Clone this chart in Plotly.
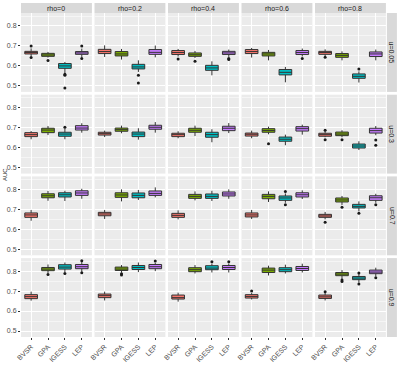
import plotly.graph_objects as go

W, H = 399, 366

METHODS = ["BVSR", "GPA", "IGESS", "LEP"]
RHO_LABELS = ["rho=0", "rho=0.2", "rho=0.4", "rho=0.6", "rho=0.8"]
U_LABELS = ["u=0.05", "u=0.3", "u=0.7", "u=0.9"]
Y_TICKS = [0.5, 0.6, 0.7, 0.8]

# box stats per panel (row-major: u then rho): (lower whisker, q1, median, q3, upper whisker)
BVSR = [
    (0.648, 0.660, 0.667, 0.673, 0.688), (0.645, 0.662, 0.672, 0.683, 0.703),
    (0.647, 0.657, 0.667, 0.677, 0.685), (0.642, 0.662, 0.672, 0.682, 0.690),
    (0.648, 0.658, 0.667, 0.673, 0.683),
    (0.642, 0.655, 0.665, 0.675, 0.683), (0.653, 0.663, 0.670, 0.677, 0.685),
    (0.647, 0.655, 0.665, 0.672, 0.682), (0.647, 0.658, 0.667, 0.673, 0.685),
    (0.652, 0.657, 0.665, 0.672, 0.682),
    (0.643, 0.660, 0.672, 0.682, 0.697), (0.652, 0.668, 0.677, 0.685, 0.697),
    (0.650, 0.660, 0.670, 0.680, 0.695), (0.652, 0.662, 0.672, 0.682, 0.697),
    (0.650, 0.660, 0.667, 0.675, 0.687),
    (0.652, 0.662, 0.672, 0.682, 0.697), (0.653, 0.667, 0.677, 0.685, 0.697),
    (0.647, 0.660, 0.667, 0.680, 0.692), (0.658, 0.665, 0.673, 0.682, 0.690),
    (0.653, 0.663, 0.671, 0.680, 0.692),
]
BVSR_OUT = [
    [0.700, 0.642], [], [0.635], [], [0.643],
    [], [], [], [], [0.687, 0.640],
    [], [], [], [], [0.635],
    [], [], [], [0.700], [0.697],
]

GPA = [
    (0.642, 0.648, 0.655, 0.663, 0.670), (0.632, 0.650, 0.660, 0.672, 0.685),
    (0.640, 0.648, 0.656, 0.665, 0.675), (0.628, 0.650, 0.660, 0.668, 0.680),
    (0.628, 0.643, 0.653, 0.662, 0.673),
    (0.663, 0.675, 0.688, 0.697, 0.708), (0.672, 0.682, 0.690, 0.698, 0.710),
    (0.658, 0.677, 0.687, 0.697, 0.710), (0.667, 0.677, 0.686, 0.695, 0.705),
    (0.652, 0.660, 0.668, 0.678, 0.687),
    (0.743, 0.758, 0.768, 0.778, 0.792), (0.740, 0.760, 0.772, 0.783, 0.800),
    (0.745, 0.755, 0.765, 0.775, 0.790), (0.737, 0.753, 0.765, 0.775, 0.790),
    (0.722, 0.737, 0.747, 0.757, 0.767),
    (0.788, 0.802, 0.810, 0.818, 0.833), (0.792, 0.803, 0.810, 0.820, 0.830),
    (0.788, 0.797, 0.807, 0.817, 0.830), (0.778, 0.793, 0.805, 0.815, 0.827),
    (0.760, 0.777, 0.785, 0.793, 0.805),
]
GPA_OUT = [
    [0.627], [], [0.623], [], [],
    [], [], [], [0.620], [0.640],
    [], [], [], [], [0.710],
    [0.783], [0.787, 0.780], [], [], [0.755, 0.748],
]

IGESS = [
    (0.562, 0.588, 0.600, 0.612, 0.620), (0.570, 0.585, 0.595, 0.608, 0.628),
    (0.553, 0.578, 0.590, 0.603, 0.623), (0.518, 0.555, 0.568, 0.582, 0.595),
    (0.517, 0.538, 0.548, 0.560, 0.573),
    (0.642, 0.657, 0.668, 0.677, 0.695), (0.640, 0.655, 0.668, 0.678, 0.697),
    (0.627, 0.652, 0.665, 0.677, 0.692), (0.612, 0.632, 0.642, 0.653, 0.665),
    (0.588, 0.598, 0.608, 0.618, 0.632),
    (0.742, 0.762, 0.773, 0.783, 0.793), (0.747, 0.758, 0.770, 0.782, 0.797),
    (0.742, 0.755, 0.765, 0.777, 0.793), (0.733, 0.745, 0.757, 0.767, 0.780),
    (0.690, 0.707, 0.715, 0.725, 0.740),
    (0.795, 0.810, 0.820, 0.832, 0.843), (0.795, 0.808, 0.818, 0.828, 0.843),
    (0.793, 0.807, 0.815, 0.827, 0.838), (0.788, 0.797, 0.807, 0.817, 0.832),
    (0.742, 0.757, 0.765, 0.773, 0.785),
]
IGESS_OUT = [
    [0.558, 0.553, 0.490], [0.553, 0.515], [], [], [0.585],
    [0.702], [], [], [], [],
    [], [], [], [0.790, 0.723], [0.680],
    [0.788], [], [0.847], [], [0.790, 0.735],
]

LEP = [
    (0.643, 0.658, 0.665, 0.672, 0.687), (0.643, 0.658, 0.668, 0.682, 0.702),
    (0.645, 0.657, 0.665, 0.673, 0.682), (0.647, 0.657, 0.667, 0.677, 0.687),
    (0.628, 0.647, 0.660, 0.670, 0.682),
    (0.675, 0.688, 0.698, 0.710, 0.722), (0.675, 0.692, 0.702, 0.712, 0.728),
    (0.673, 0.685, 0.697, 0.707, 0.723), (0.665, 0.683, 0.695, 0.705, 0.715),
    (0.662, 0.673, 0.685, 0.697, 0.708),
    (0.753, 0.770, 0.782, 0.793, 0.803), (0.760, 0.770, 0.780, 0.792, 0.810),
    (0.753, 0.767, 0.777, 0.787, 0.800), (0.752, 0.762, 0.773, 0.783, 0.795),
    (0.733, 0.745, 0.758, 0.768, 0.778),
    (0.797, 0.812, 0.822, 0.833, 0.845), (0.800, 0.812, 0.822, 0.833, 0.842),
    (0.793, 0.808, 0.818, 0.828, 0.838), (0.793, 0.803, 0.813, 0.823, 0.837),
    (0.773, 0.787, 0.795, 0.805, 0.817),
]
LEP_OUT = [
    [0.700, 0.637], [], [0.637, 0.632], [0.637], [],
    [], [], [], [], [0.638, 0.612],
    [], [], [], [], [0.723],
    [0.852, 0.792], [0.850], [0.847], [], [0.767],
]

STATS = {"BVSR": BVSR, "GPA": GPA, "IGESS": IGESS, "LEP": LEP}
OUTS = {"BVSR": BVSR_OUT, "GPA": GPA_OUT, "IGESS": IGESS_OUT, "LEP": LEP_OUT}
COLORS = {"BVSR": "#F8766D", "GPA": "#7CAE00", "IGESS": "#00BFC4", "LEP": "#C77CFF"}

# panel geometry in pixels
X0, PW, XGAP = 21, 70.9, 2.6
Y0, PH, YGAP = 13, 78.9, 2.8
STRIP = 10
FONT = "Liberation Sans, Arial, sans-serif"


def px_x(x):
    return x / W


def px_y(y):
    return 1 - y / H


fig = go.Figure()
layout = {}
shapes = []
annotations = []

for r in range(4):
    for c in range(5):
        idx = r * 5 + c + 1
        p = r * 5 + c
        xs = "" if idx == 1 else str(idx)
        left = X0 + c * (PW + XGAP)
        top = Y0 + r * (PH + YGAP)

        for m in METHODS:
            lo, q1, med, q3, hi = STATS[m][p]
            fig.add_trace(go.Box(
                x=[m], q1=[q1], median=[med], q3=[q3],
                lowerfence=[lo], upperfence=[hi],
                width=0.75, whiskerwidth=0,
                fillcolor=COLORS[m], line=dict(color="#333333", width=1),
                boxpoints=False, showlegend=False, hoverinfo="skip",
                xaxis="x" + xs, yaxis="y" + xs,
            ))
            outs = OUTS[m][p]
            if outs:
                fig.add_trace(go.Scatter(
                    x=[m] * len(outs), y=outs, mode="markers",
                    marker=dict(color="#1A1A1A", size=3),
                    showlegend=False, hoverinfo="skip",
                    xaxis="x" + xs, yaxis="y" + xs,
                ))

        layout["xaxis" + xs] = dict(
            domain=[px_x(left), px_x(left + PW)], anchor="y" + xs,
            type="category", categoryorder="array", categoryarray=METHODS,
            range=[-0.6, 3.6], showgrid=True, gridcolor="white", gridwidth=1,
            zeroline=False, showline=False, automargin=False,
            showticklabels=(r == 3), ticks="outside" if r == 3 else "",
            ticklen=2, tickcolor="#333333", tickangle=-45,
            tickfont=dict(family=FONT, size=7, color="#4D4D4D"),
        )
        layout["yaxis" + xs] = dict(
            domain=[px_y(top + PH), px_y(top)], anchor="x" + xs,
            range=[0.47, 0.865], tickvals=Y_TICKS,
            ticktext=[f"{v:.1f}" for v in Y_TICKS],
            showgrid=True, gridcolor="white", gridwidth=1,
            minor=dict(tickvals=[0.55, 0.65, 0.75, 0.85], showgrid=True,
                       gridcolor="white", gridwidth=0.5),
            zeroline=False, showline=False, automargin=False,
            showticklabels=(c == 0), ticks="outside" if c == 0 else "",
            ticklen=2, tickcolor="#333333",
            tickfont=dict(family=FONT, size=7, color="#4D4D4D"),
        )

        if r == 0:
            shapes.append(dict(type="rect", xref="paper", yref="paper",
                               x0=px_x(left), x1=px_x(left + PW),
                               y0=px_y(Y0), y1=px_y(Y0 - STRIP),
                               fillcolor="#D9D9D9", line=dict(width=0), layer="below"))
            annotations.append(dict(text=RHO_LABELS[c], xref="paper", yref="paper",
                                    x=px_x(left + PW / 2), y=px_y(Y0 - STRIP / 2),
                                    showarrow=False, xanchor="center", yanchor="middle",
                                    font=dict(family=FONT, size=7, color="#1A1A1A")))
        if c == 4:
            sx = left + PW + 1
            shapes.append(dict(type="rect", xref="paper", yref="paper",
                               x0=px_x(sx), x1=px_x(sx + STRIP),
                               y0=px_y(top + PH), y1=px_y(top),
                               fillcolor="#D9D9D9", line=dict(width=0), layer="below"))
            annotations.append(dict(text=U_LABELS[r], xref="paper", yref="paper",
                                    x=px_x(sx + STRIP / 2), y=px_y(top + PH / 2),
                                    showarrow=False, textangle=90,
                                    xanchor="center", yanchor="middle",
                                    font=dict(family=FONT, size=7, color="#1A1A1A")))

annotations.append(dict(text="AUC", xref="paper", yref="paper",
                        x=px_x(5), y=px_y(Y0 + 2 * PH + 1.5 * YGAP),
                        showarrow=False, textangle=-90,
                        xanchor="center", yanchor="middle",
                        font=dict(family=FONT, size=6, color="#1A1A1A")))

fig.update_layout(
    **layout,
    width=W, height=H,
    margin=dict(l=0, r=0, t=0, b=0),
    paper_bgcolor="white", plot_bgcolor="#EBEBEB",
    boxmode="overlay", showlegend=False,
    shapes=shapes, annotations=annotations,
    template="none",
)

# drop the browser's default body margin so the figure sits at the window origin
fig.write_html(
    "out.html",
    config={"displayModeBar": False, "staticPlot": True},
    post_script="document.body.style.margin='0';document.body.style.overflow='hidden';",
)
